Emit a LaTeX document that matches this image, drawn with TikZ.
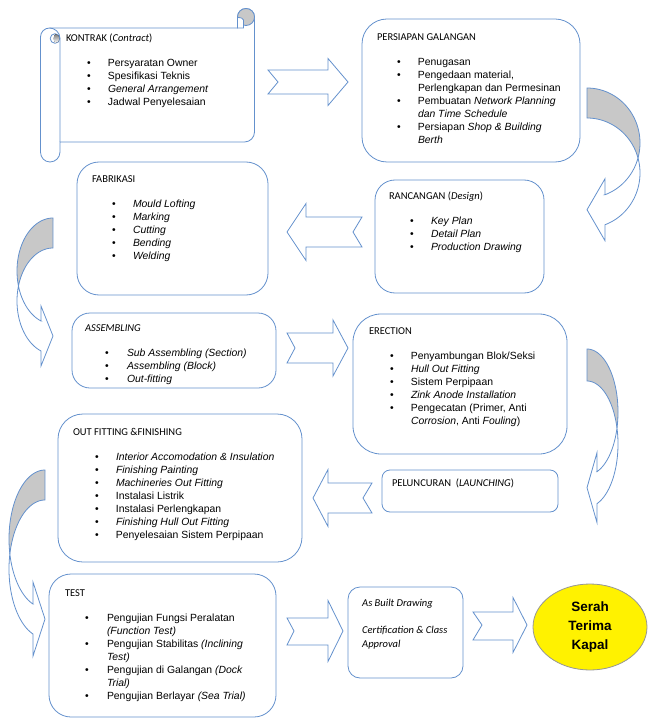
\documentclass[tikz,border=0pt]{standalone}
\usepackage{fontspec}
\setmainfont{Liberation Sans}
\newfontfamily\ttlfont{Carlito}
\usetikzlibrary{shapes.geometric}
\definecolor{edge}{RGB}{100,145,205}
\definecolor{shade}{RGB}{200,200,200}
\definecolor{ovalline}{RGB}{150,150,150}
\newcommand{\bu}{\makebox[\bw pt][l]{\hspace*{\bo pt}\textbullet}}
\newcommand{\nb}{\makebox[\bw pt]{}}
\newcommand{\ttl}[1]{\multicolumn{2}{@{}l@{}}{\ttlfont\fontsize{10.5}{13}\selectfont #1}\\[12pt]}
% curved block arrow: a, s, t, th, rx, ry, xH, hb
\newcommand{\curlarrow}[8]{%
  \pgfmathsetmacro\cya{#3+#6}%
  \pgfmathsetmacro\cyb{#3+#6+#4}%
  \pgfmathsetmacro\ctc{asin(#4/(2*#6))}%
  \pgfmathsetmacro\cth{acos(abs(#7-#1)/#5)}%
  \pgfmathsetmacro\ya{\cya+#6*sin(\cth)}%
  \pgfmathsetmacro\yb{\cyb+#6*sin(\cth)}%
  \pgfmathsetmacro\ym{(\ya+\yb)/2}%
  \filldraw[shapeline, fill=shade]
    plot[domain=-90:\ctc, samples=40, variable=\q] ({#1+#2*#5*cos(\q)},{\cya+#6*sin(\q)})
    -- plot[domain=0:1, samples=40, variable=\q] ({#1+#2*#5*cos(-\ctc-\q*(90-\ctc))},{\cyb+#6*sin(-\ctc-\q*(90-\ctc))})
    -- cycle;
  \filldraw[shapeline, fill=white]
    plot[domain=-\ctc:\cth, samples=40, variable=\q] ({#1+#2*#5*cos(\q)},{\cyb+#6*sin(\q)})
    -- (#7,\ym+#8) -- (#1,\ym) -- (#7,\ym-#8) -- (#7,\ya)
    -- plot[domain=0:1, samples=40, variable=\q] ({#1+#2*#5*cos(\cth-\q*(\cth-\ctc))},{\cya+#6*sin(\cth-\q*(\cth-\ctc))})
    -- cycle;
}
% notched right arrow: L, n, H, T, s1, s2, hb, m
\newcommand{\notchright}[8]{%
  \filldraw[shapeline, fill=white] (#1,#5) -- (#3,#5) -- (#3,#8-#7) -- (#4,#8) -- (#3,#8+#7) -- (#3,#6) -- (#1,#6) -- (#1+#2,#8) -- cycle;}
% notched left arrow: R, n, H, T, s1, s2, hb, m
\newcommand{\notchleft}[8]{%
  \filldraw[shapeline, fill=white] (#1,#5) -- (#3,#5) -- (#3,#8-#7) -- (#4,#8) -- (#3,#8+#7) -- (#3,#6) -- (#1,#6) -- (#1-#2,#8) -- cycle;}
\begin{document}
\begin{tikzpicture}[x=1pt,y=-1pt,
  shapeline/.style={draw=edge, line width=0.8pt},
  box/.style={shapeline, fill=white, rectangle, inner sep=0pt, outer sep=0pt},
  txt/.style={anchor=base west, inner sep=0pt, outer sep=0pt, font=\fontsize{10.4}{13}\selectfont},
  ttlnode/.style={anchor=base west, inner sep=0pt, outer sep=0pt, font=\ttlfont\fontsize{10.5}{13}\selectfont}]
\useasboundingbox (0,0) rectangle (648,719);

% ---------- KONTRAK scroll ----------
\coordinate (kontrak) at (147,85);
\filldraw[shapeline, fill=white] (40.5,37) .. controls (40.5,32) and (44.5,28) .. (49.5,28) -- (237.5,28) -- (237.5,17)
  .. controls (237.5,12.3) and (241.3,8.5) .. (246,8.5) .. controls (250.7,8.5) and (254.5,12.3) .. (254.5,17)
  -- (254.5,132) .. controls (254.5,137.5) and (250,142) .. (244.5,142) -- (60,142) -- (60,152)
  .. controls (60,157.5) and (55.5,162) .. (50,162) .. controls (44.5,162) and (40.5,157.5) .. (40.5,152) -- cycle;
\filldraw[shapeline, fill=shade] (246,17) circle[radius=8.5];
\filldraw[shapeline, fill=white] (237.5,17.5) -- (237.5,28) -- (243.5,28) -- (243.5,20) .. controls (243.5,18.5) and (241,17.5) .. (237.5,17.5) -- cycle;
\filldraw[shapeline, fill=white] (55,38.5) circle[radius=4.8];
\fill[shade] (55.3,34.2) .. controls (57.8,34.2) and (59.4,36.2) .. (59.4,38.5) .. controls (59.4,40.8) and (57.8,42.9) .. (55.3,42.9) .. controls (53.2,41) and (53.2,36) .. (55.3,34.2) -- cycle;
\draw[shapeline] (49.5,28) .. controls (54.5,28) and (60,32) .. (60,38.5) -- (60,142);

% ---------- boxes ----------
\node[box, rounded corners=25pt, minimum width=218pt, minimum height=143pt] (persiapan) at (471,90.5) {};
\node[box, rounded corners=20pt, minimum width=169pt, minimum height=113pt] (rancangan) at (459.5,236.5) {};
\node[box, rounded corners=22pt, minimum width=191pt, minimum height=133pt] (fabrikasi) at (172.5,228.5) {};
\node[box, rounded corners=18pt, minimum width=204pt, minimum height=75pt] (assembling) at (174,350.5) {};
\node[box, rounded corners=28pt, minimum width=214pt, minimum height=140pt] (erection) at (460,384) {};
\node[box, rounded corners=8pt, minimum width=176pt, minimum height=42pt] (peluncuran) at (470,491) {};
\node[box, rounded corners=25pt, minimum width=244pt, minimum height=148pt] (outfitting) at (180,488) {};
\node[box, rounded corners=22pt, minimum width=227pt, minimum height=143pt] (test) at (162.5,645.5) {};
\node[box, rounded corners=12pt, minimum width=115pt, minimum height=91pt] (asbuilt) at (405.5,632.5) {};
\node[ellipse, draw=ovalline, line width=0.8pt, fill=yellow, minimum width=114pt, minimum height=86pt, inner sep=0pt,
  align=center, font=\bfseries\fontsize{13.5}{19}\selectfont] (serah) at (590,627) {Serah\\Terima\\Kapal};

% ---------- texts ----------
\node[txt] (kontrak-t) at (66,41.5) {\def\bo{21.2}\def\bw{42}\begin{tabular}[t]{@{}l@{}l@{}}
\ttl{KONTRAK (\textit{Contract})}
\bu & Persyaratan Owner\\
\bu & Spesifikasi Teknis\\
\bu & \textit{General Arrangement}\\
\bu & Jadwal Penyelesaian
\end{tabular}};

\node[txt] (persiapan-t) at (377,40.5) {\def\bo{20.2}\def\bw{41}\begin{tabular}[t]{@{}l@{}l@{}}
\ttl{PERSIAPAN GALANGAN}
\bu & Penugasan\\
\bu & Pengedaan material,\\
\nb & Perlengkapan dan Permesinan\\
\bu & Pembuatan \textit{Network Planning}\\
\nb & \textit{dan Time Schedule}\\
\bu & Persiapan \textit{Shop \& Building}\\
\nb & \textit{Berth}
\end{tabular}};

\node[txt] (rancangan-t) at (389,199.5) {\def\bo{21.2}\def\bw{42}\begin{tabular}[t]{@{}l@{}l@{}}
\ttl{RANCANGAN (\textit{Design})}
\bu & \textit{Key Plan}\\
\bu & \textit{Detail Plan}\\
\bu & \textit{Production Drawing}
\end{tabular}};

\node[txt] (fabrikasi-t) at (92,182.5) {\def\bo{20.2}\def\bw{41}\begin{tabular}[t]{@{}l@{}l@{}}
\ttl{FABRIKASI}
\bu & \textit{Mould Lofting}\\
\bu & \textit{Marking}\\
\bu & \textit{Cutting}\\
\bu & \textit{Bending}\\
\bu & \textit{Welding}
\end{tabular}};

\node[txt] (assembling-t) at (85,331.5) {\def\bo{20.2}\def\bw{42}\begin{tabular}[t]{@{}l@{}l@{}}
\ttl{\textit{ASSEMBLING}}
\bu & \textit{Sub Assembling (Section)}\\
\bu & \textit{Assembling (Block)}\\
\bu & \textit{Out-fitting}
\end{tabular}};

\node[txt] (erection-t) at (369,334.5) {\def\bo{21.2}\def\bw{42}\begin{tabular}[t]{@{}l@{}l@{}}
\ttl{ERECTION}
\bu & Penyambungan Blok/Seksi\\
\bu & \textit{Hull Out Fitting}\\
\bu & Sistem Perpipaan\\
\bu & \textit{Zink Anode Installation}\\
\bu & Pengecatan (Primer, Anti\\
\nb & \textit{Corrosion}, Anti \textit{Fouling})
\end{tabular}};

\node[ttlnode] (peluncuran-t) at (392,486.5) {PELUNCURAN\ \ (\textit{LAUNCHING})};

\node[txt] (outfitting-t) at (73,435.5) {\def\bo{22.2}\def\bw{43}\begin{tabular}[t]{@{}l@{}l@{}}
\ttl{OUT FITTING \&FINISHING}
\bu & \textit{Interior Accomodation \& Insulation}\\
\bu & \textit{Finishing Painting}\\
\bu & \textit{Machineries Out Fitting}\\
\bu & Instalasi Listrik\\
\bu & Instalasi Perlengkapan\\
\bu & \textit{Finishing Hull Out Fitting}\\
\bu & Penyelesaian Sistem Perpipaan
\end{tabular}};

\node[txt] (test-t) at (65,596.5) {\def\bo{20.2}\def\bw{42}\begin{tabular}[t]{@{}l@{}l@{}}
\ttl{TEST}
\bu & Pengujian Fungsi Peralatan\\
\nb & \textit{(Function Test)}\\
\bu & Pengujian Stabilitas \textit{(Inclining}\\
\nb & \textit{Test)}\\
\bu & Pengujian di Galangan \textit{(Dock}\\
\nb & \textit{Trial)}\\
\bu & Pengujian Berlayar \textit{(Sea Trial)}
\end{tabular}};

\node[anchor=base west, inner sep=0pt, font=\ttlfont\itshape\fontsize{10.5}{14}\selectfont] (asbuilt-t) at (362,606.5)
  {\begin{tabular}[t]{@{}l@{}}As Built Drawing\\[13pt]Certification \& Class\\Approval\end{tabular}};

% ---------- straight block arrows ----------
\notchright{268}{10}{328}{348}{70}{94}{23.5}{82}
\notchleft{362}{9}{306}{287}{217}{247}{28.5}{232}
\notchright{287}{8}{333}{348}{333}{363}{28}{348}
\notchleft{372}{9}{328}{313}{483}{513}{28.5}{498}
\notchright{287}{7}{328}{343}{618}{645}{30.5}{631}
\notchright{473}{9}{513}{527}{612}{640}{27.5}{625}

% ---------- curved block arrows ----------
\curlarrow{587}{1}{88}{30}{53}{55}{605}{31}
\curlarrow{53}{(-1)}{218}{30}{36}{53}{41}{30}
\curlarrow{587}{1}{349}{32}{31}{63}{597}{35}
\curlarrow{45}{(-1)}{470}{30}{36}{69}{33}{37}
\end{tikzpicture}
\end{document}
